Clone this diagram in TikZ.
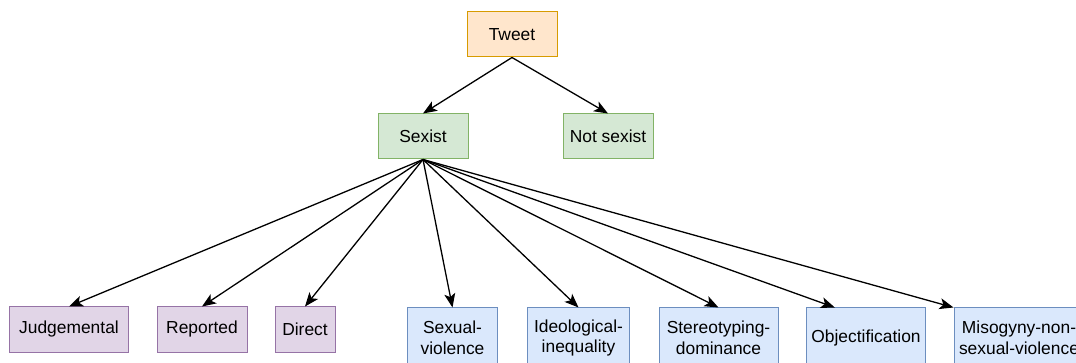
\documentclass[tikz,border=0pt]{standalone}
\usepackage{fontspec}
\setmainfont{Liberation Sans}
\usetikzlibrary{arrows.meta,calc}
\definecolor{orfill}{HTML}{FFE6CC}\definecolor{ordraw}{HTML}{D79B00}
\definecolor{grfill}{HTML}{D5E8D4}\definecolor{grdraw}{HTML}{82B366}
\definecolor{pufill}{HTML}{E1D5E7}\definecolor{pudraw}{HTML}{9673A6}
\definecolor{blfill}{HTML}{DAE8FC}\definecolor{bldraw}{HTML}{6C8EBF}
\begin{document}
\begin{tikzpicture}[x=1pt,y=-1pt,
  box/.style={rectangle,line width=1pt,inner sep=0pt,align=center,
    font=\fontsize{17.4}{20.6}\selectfont,minimum height=45pt},
  orbox/.style={box,fill=orfill,draw=ordraw},
  grbox/.style={box,fill=grfill,draw=grdraw},
  pubox/.style={box,fill=pufill,draw=pudraw},
  blbox/.style={box,fill=blfill,draw=bldraw,minimum height=60pt},
  arr/.style={line width=1.3pt,-{Stealth[length=14pt,width=11pt,inset=3.5pt]}}]
\useasboundingbox (0,0) rectangle (1076,363);
\clip (0,0) rectangle (1076,363);
\node[orbox,minimum width=90pt] (tweet) at (512,34.5) {Tweet};
\node[grbox,minimum width=90pt] (sexist) at (423,136.5) {Sexist};
\node[grbox,minimum width=90pt] (notsexist) at (608,136.5) {Not sexist};
\node[pubox,minimum width=119pt] (judg) at (69,329.5) {Judgemental};
\node[pubox,minimum width=90pt] (rep) at (202,329.5) {Reported};
\node[pubox,minimum width=60pt] (dir) at (305,329.5) {Direct};
\node[blbox,minimum width=90pt] (sv) at (452.5,338) {Sexual-\\violence};
\node[blbox,minimum width=102pt] (ii) at (578.5,338) {Ideological-\\inequality};
\node[blbox,minimum width=119pt] (sd) at (718.5,338) {Stereotyping-\\dominance};
\node[blbox,minimum width=119pt] (obj) at (866,338) {Objectification};
\node[blbox,minimum width=130pt] (mis) at (1019,338) {Misogyny-non-\\sexual-violence};
\coordinate (objin) at ($(obj.north west)!0.24!(obj.north east)$);
\draw[arr] (tweet.south) -- (sexist.north);
\draw[arr] (tweet.south) -- (notsexist.north);
\foreach \t in {judg,rep,dir,sv,ii,sd}
  \draw[arr] (sexist.south) -- (\t.north);
\draw[arr] (sexist.south) -- (objin);
\draw[arr] (sexist.south) -- (mis.north west);
\end{tikzpicture}
\end{document}
